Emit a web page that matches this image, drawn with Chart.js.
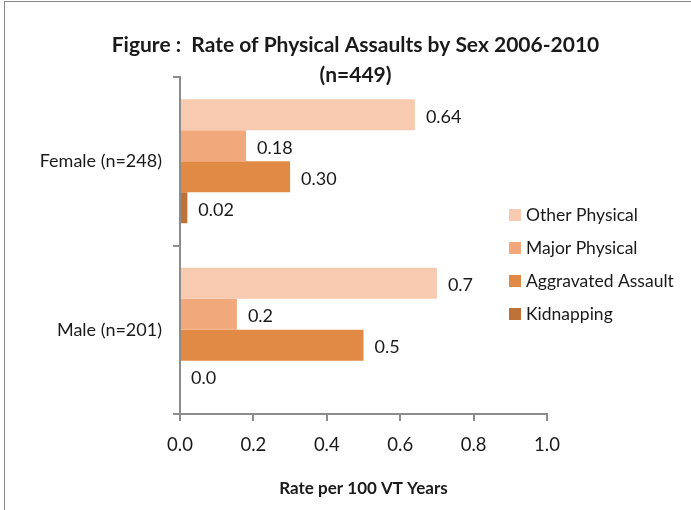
<!DOCTYPE html>
<html>
<head>
<meta charset="utf-8">
<script src="https://cdn.jsdelivr.net/npm/chart.js@4.4.0/dist/chart.umd.min.js"></script>
<style>
  html, body { margin: 0; padding: 0; background: #fff; overflow: hidden; }
  #wrap { position: relative; width: 691px; height: 510px; }
  #frame { position: absolute; left: 4px; top: 1px; right: -10px; bottom: -10px; border: 1px solid #8a8a8a; pointer-events: none; }
  canvas { display: block; }
</style>
</head>
<body>
<div id="wrap"><canvas id="chart" width="691" height="510"></canvas><div id="frame"></div></div>
<script>
const categories = ['Female (n=248)', 'Male (n=201)'];
const seriesNames = ['Other Physical', 'Major Physical', 'Aggravated Assault', 'Kidnapping'];
const otherPhysical = [0.64, 0.70];
const majorPhysical = [0.18, 0.155];
const aggravatedAssault = [0.30, 0.50];
const kidnapping = [0.02, 0.0];
const labelDecimals = [2, 1];
const seriesColors = ['#F8CBB0', '#F1A87B', '#E08A45', '#BE7238'];

const FONT = 'Lato';
const TEXT = '#1a1a1a';
const AXIS = '#8c8c8c';

// value printed just past the end of each bar
const valueLabels = {
    id: 'valueLabels',
    afterDatasetsDraw(chart) {
        const ctx = chart.ctx;
        ctx.save();
        ctx.font = '18px ' + FONT;
        ctx.fillStyle = TEXT;
        ctx.textAlign = 'left';
        ctx.textBaseline = 'middle';
        chart.data.datasets.forEach((ds, i) => {
            chart.getDatasetMeta(i).data.forEach((bar, j) => {
                ctx.fillText(ds.data[j].toFixed(labelDecimals[j]), bar.x + 11, bar.y + 2);
            });
        });
        ctx.restore();
    }
};

// legend sits partly over the plot area, so it is drawn by hand
const sideLegend = {
    id: 'sideLegend',
    afterDraw(chart) {
        const ctx = chart.ctx;
        ctx.save();
        ctx.font = '17.5px ' + FONT;
        ctx.textBaseline = 'middle';
        ctx.textAlign = 'left';
        chart.data.datasets.forEach((ds, i) => {
            const y = 215 + i * 33;
            ctx.fillStyle = ds.backgroundColor;
            ctx.fillRect(509, y - 6, 12, 12);
            ctx.fillStyle = TEXT;
            ctx.fillText(ds.label, 526, y);
        });
        ctx.restore();
    }
};

const seriesData = [otherPhysical, majorPhysical, aggravatedAssault, kidnapping];

new Chart(document.getElementById('chart'), {
    type: 'bar',
    data: {
        labels: categories,
        datasets: seriesNames.map((name, i) => ({
            label: name,
            data: seriesData[i],
            backgroundColor: seriesColors[i],
            borderWidth: 0,
            categoryPercentage: 0.736,
            barPercentage: 1.0
        }))
    },
    options: {
        indexAxis: 'y',
        responsive: false,
        animation: false,
        devicePixelRatio: 1,
        layout: { padding: { left: 20, right: 0, top: 30, bottom: 0 } },
        scales: {
            x: {
                min: 0,
                max: 1,
                ticks: { stepSize: 0.2, callback: v => v.toFixed(1), color: TEXT, font: { family: FONT, size: 18.5 }, padding: 13 },
                grid: { drawOnChartArea: false, tickLength: 7, color: AXIS, lineWidth: 2 },
                border: { color: AXIS, width: 2 },
                title: { display: true, text: 'Rate per 100 VT Years', color: TEXT, font: { family: FONT, size: 17, weight: 'bold' }, padding: { top: 0, bottom: 11 } },
                afterFit(s) { s.height = 96; }
            },
            y: {
                ticks: { color: TEXT, font: { family: FONT, size: 18 }, padding: 11 },
                grid: { drawOnChartArea: false, offset: true, tickLength: 7, color: AXIS, lineWidth: 2 },
                border: { color: AXIS, width: 2 },
                afterFit(s) { s.width = 160; }
            },
            pad: {
                type: 'linear',
                position: 'right',
                display: true,
                grid: { display: false },
                border: { display: false },
                ticks: { display: false },
                afterFit(s) { s.width = 144; }
            }
        },
        plugins: {
            legend: { display: false },
            tooltip: { enabled: false },
            title: {
                display: true,
                text: ['Figure :  Rate of Physical Assaults by Sex 2006-2010', '(n=449)'],
                color: TEXT,
                font: { family: FONT, size: 21, weight: 'bold', lineHeight: '30px' },
                padding: { top: 0, bottom: -13 }
            }
        }
    },
    plugins: [valueLabels, sideLegend]
});
</script>
</body>
</html>
